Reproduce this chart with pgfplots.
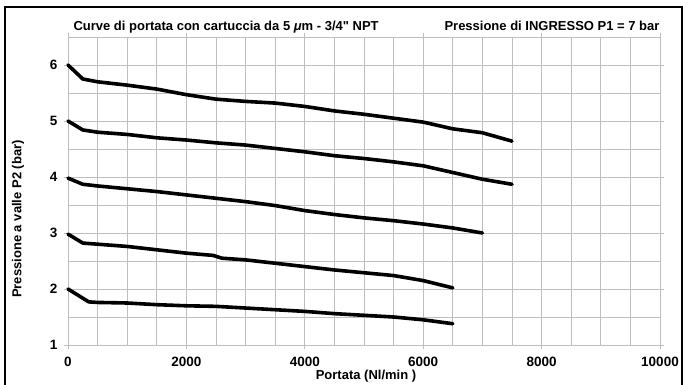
\documentclass[border=0pt]{standalone}
\usepackage{pgfplots}
\pgfplotsset{compat=1.18}
\usepackage{fontspec}
\setmainfont{Liberation Sans}
\newfontfamily\qfont{Liberation Sans}[Ligatures=TeXOff]
\definecolor{gridgray}{RGB}{190,190,190}
\begin{document}
\begin{tikzpicture}[x=1pt,y=1pt]
\useasboundingbox (0,0) rectangle (683,385);
\draw[line width=1.3pt] (5,-5) -- (5,378) -- (682,378) -- (682,-5);
\begin{axis}[
  at={(68pt,40pt)}, anchor=south west,
  scale only axis, width=592pt, height=308pt,
  xmin=0, xmax=10000, ymin=1, ymax=6.5,
  xtick={0,2000,...,10000},
  minor xtick={0,500,...,10000},
  ytick={1,2,...,6},
  minor ytick={1,1.5,...,6.5},
  scaled ticks=false,
  grid=both,
  major grid style={gridgray, line width=0.9pt},
  minor grid style={gridgray, line width=0.9pt},
  axis line style={gridgray, line width=0.9pt},
  tick align=outside,
  major tick length=4pt, minor tick length=0pt,
  tick style={gridgray, line width=0.9pt},
  /pgf/number format/assume math mode=true,
  /pgf/number format/1000 sep={},
  tick label style={font=\fontsize{13.5}{15}\selectfont\bfseries},
  xticklabel style={yshift=-5pt},
  yticklabel style={xshift=-3pt},
  clip=false,
]
\addplot[black, line width=3.6pt, line join=round, line cap=round] coordinates {
(0,6.0) (250,5.75) (500,5.70) (1000,5.64) (1500,5.57) (2000,5.47) (2500,5.39) (3000,5.35) (3500,5.32) (4000,5.26) (4500,5.18) (5000,5.12) (5500,5.05) (6000,4.98) (6500,4.86) (7000,4.79) (7500,4.64)};
\addplot[black, line width=3.6pt, line join=round, line cap=round] coordinates {
(0,5.0) (250,4.84) (500,4.80) (1000,4.76) (1500,4.70) (2000,4.66) (2500,4.61) (3000,4.57) (3500,4.51) (4000,4.45) (4500,4.38) (5000,4.33) (5500,4.27) (6000,4.20) (6500,4.08) (7000,3.96) (7500,3.87)};
\addplot[black, line width=3.6pt, line join=round, line cap=round] coordinates {
(0,3.98) (250,3.87) (500,3.84) (1000,3.79) (1500,3.74) (2000,3.68) (2500,3.62) (3000,3.56) (3500,3.49) (4000,3.40) (4500,3.33) (5000,3.27) (5500,3.22) (6000,3.16) (6500,3.09) (7000,3.00)};
\addplot[black, line width=3.6pt, line join=round, line cap=round] coordinates {
(0,2.98) (250,2.82) (500,2.80) (1000,2.76) (1500,2.70) (2000,2.64) (2450,2.60) (2600,2.55) (3000,2.52) (3500,2.46) (4000,2.40) (4500,2.34) (5000,2.29) (5500,2.24) (6000,2.15) (6500,2.02)};
\addplot[black, line width=3.6pt, line join=round, line cap=round] coordinates {
(0,2.0) (350,1.77) (500,1.76) (1000,1.75) (1500,1.72) (2000,1.70) (2500,1.69) (3000,1.66) (3500,1.63) (4000,1.60) (4500,1.56) (5000,1.53) (5500,1.50) (6000,1.45) (6500,1.38)};
\end{axis}
\node[anchor=base west, font=\fontsize{13}{15}\selectfont\bfseries] at (70,354) {Curve di portata con cartuccia da 5 {\itshape μ}m - 3/4{\qfont\bfseries "} NPT};
\node[anchor=base east, font=\fontsize{13}{15}\selectfont\bfseries] at (663,354) {Pressione di INGRESSO P1 = 7 bar};
\node[rotate=90, font=\fontsize{13}{15}\selectfont\bfseries] at (18,166) {Pressione a valle P2 (bar)};
\node[anchor=base, font=\fontsize{13}{15}\selectfont\bfseries] at (366,5) {Portata (Nl/min )};
\end{tikzpicture}
\end{document}
